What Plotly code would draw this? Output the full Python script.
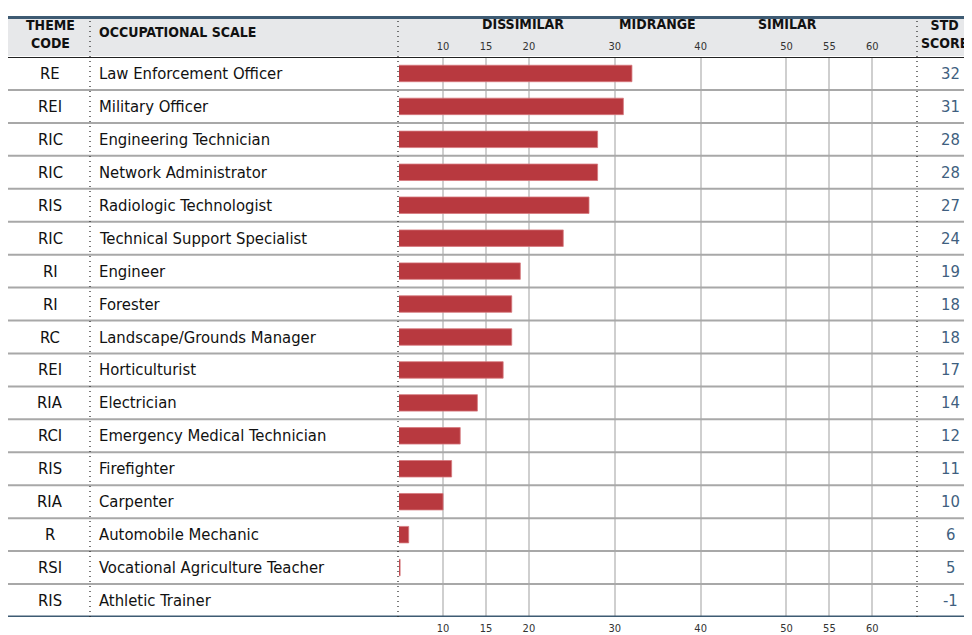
import plotly.graph_objects as go

theme_codes = ["RE", "REI", "RIC", "RIC", "RIS", "RIC", "RI", "RI", "RC", "REI",
               "RIA", "RCI", "RIS", "RIA", "R", "RSI", "RIS"]
occupations = ["Law Enforcement Officer", "Military Officer", "Engineering Technician",
               "Network Administrator", "Radiologic Technologist", "Technical Support Specialist",
               "Engineer", "Forester", "Landscape/Grounds Manager", "Horticulturist",
               "Electrician", "Emergency Medical Technician", "Firefighter", "Carpenter",
               "Automobile Mechanic", "Vocational Agriculture Teacher", "Athletic Trainer"]
std_scores = [32, 31, 28, 28, 27, 24, 19, 18, 18, 17, 14, 12, 11, 10, 6, 5, -1]
tick_values = [10, 15, 20, 30, 40, 50, 55, 60]
zone_labels = ["DISSIMILAR", "MIDRANGE", "SIMILAR"]
zone_centers = [19.3, 35.0, 50.1]

W, H = 972, 635
OFF = 8  # page body margin
FONT = "Liberation Sans Narrow, DejaVu Sans Condensed, Arial Narrow, sans-serif"
BLUE = "#3e5b73"
RED = "#b8393f"
SCORE_COL = "#3f5f80"

def px_x(p):
    return (p - OFF) / W

def px_y(p):
    return (H - (p - OFF)) / H

rows = list(range(len(occupations)))
x_min, x_max = 4.87, 65.2

fig = go.Figure()
fig.add_trace(go.Bar(
    x=std_scores, y=rows, orientation="h", width=0.5,
    marker=dict(color=RED, line=dict(color="rgba(214,120,125,0.8)", width=1)),
    hoverinfo="skip", showlegend=False,
))
# invisible trace to activate top axis
fig.add_trace(go.Scatter(x=[tick_values[0]], y=[0], xaxis="x2", mode="markers",
                         marker=dict(opacity=0), hoverinfo="skip", showlegend=False))

plot_dom_x = [px_x(399), px_x(917)]
plot_dom_y = [px_y(617), px_y(57)]

fig.update_layout(
    width=W, height=H, margin=dict(l=0, r=0, t=0, b=0),
    paper_bgcolor="white", plot_bgcolor="white",
    font=dict(family=FONT, color="#1a1a1a"),
    bargap=0.5,
    xaxis=dict(domain=plot_dom_x, range=[x_min, x_max], tickvals=tick_values,
               showgrid=True, gridcolor="#cfcfcf", gridwidth=2, zeroline=False,
               showline=False, ticks="outside", ticklen=1, tickcolor="rgba(0,0,0,0)",
               tickfont=dict(size=11, family=FONT, color="#333"), fixedrange=True),
    xaxis2=dict(domain=plot_dom_x, range=[x_min, x_max], tickvals=tick_values,
                overlaying="x", side="top", matches="x", showgrid=False, zeroline=False,
                showline=False, ticks="outside", ticklen=2, tickcolor="rgba(0,0,0,0)",
                tickfont=dict(size=11, family=FONT, color="#333")),
    yaxis=dict(domain=plot_dom_y, range=[len(rows) - 0.5, -0.5], showgrid=False,
               zeroline=False, showticklabels=False, showline=False, fixedrange=True),
)

shapes = []
# header background
shapes.append(dict(type="rect", xref="paper", yref="paper", x0=px_x(8), x1=1,
                   y0=px_y(56), y1=px_y(18), fillcolor="#e7e8ea", line=dict(width=0), layer="below"))
# top blue line
shapes.append(dict(type="line", xref="paper", yref="paper", x0=px_x(8), x1=1,
                   y0=px_y(17.5), y1=px_y(17.5), line=dict(color=BLUE, width=3)))
# row separators
for i in rows[:-1]:
    shapes.append(dict(type="line", xref="paper", yref="y", x0=px_x(8), x1=1,
                       y0=i + 0.5, y1=i + 0.5, line=dict(color="#a8a8a8", width=2)))
# header bottom line
shapes.append(dict(type="line", xref="paper", yref="y", x0=px_x(8), x1=1,
                   y0=-0.5, y1=-0.5, line=dict(color="#222222", width=2)))
# bottom blue line
shapes.append(dict(type="line", xref="paper", yref="y", x0=px_x(8), x1=1,
                   y0=len(rows) - 0.5, y1=len(rows) - 0.5, line=dict(color=BLUE, width=3)))
# dotted column dividers
for xp in [90, 398, 917]:
    shapes.append(dict(type="line", xref="paper", yref="paper", x0=px_x(xp), x1=px_x(xp),
                       y0=px_y(617), y1=px_y(21), line=dict(color="#222222", width=1.2, dash="1px,4px")))
fig.update_layout(shapes=shapes)

ann = []
hdr_font = dict(family=FONT, size=14, color="#111111")
ann.append(dict(text="<b>THEME<br>CODE</b>", xref="paper", yref="paper", x=px_x(50), y=px_y(34),
                showarrow=False, font=hdr_font, xanchor="center", yanchor="middle", align="center"))
ann.append(dict(text="<b>OCCUPATIONAL SCALE</b>", xref="paper", yref="paper", x=px_x(97), y=px_y(32),
                showarrow=False, font=hdr_font, xanchor="left", yanchor="middle"))
for lab, c in zip(zone_labels, zone_centers):
    ann.append(dict(text="<b>%s</b>" % lab, xref="x", yref="paper", x=c, y=px_y(24),
                    showarrow=False, font=hdr_font, xanchor="center", yanchor="middle"))
ann.append(dict(text="<b>STD<br>SCORE</b>", xref="paper", yref="paper", x=px_x(944), y=px_y(34),
                showarrow=False, font=hdr_font, xanchor="center", yanchor="middle", align="center"))

row_font = dict(family=FONT, size=16.5, color="#111111")
for i in rows:
    ann.append(dict(text=theme_codes[i], xref="paper", yref="y", x=px_x(50), y=i,
                    showarrow=False, font=row_font, xanchor="center", yanchor="middle"))
    ann.append(dict(text=occupations[i], xref="paper", yref="y", x=px_x(96.5), y=i,
                    showarrow=False, font=row_font, xanchor="left", yanchor="middle"))
    ann.append(dict(text=str(std_scores[i]), xref="paper", yref="y", x=px_x(950), y=i,
                    showarrow=False, font=dict(family=FONT, size=16.5, color=SCORE_COL),
                    xanchor="center", yanchor="middle"))
fig.update_layout(annotations=ann)

fig.write_html("out.html")
